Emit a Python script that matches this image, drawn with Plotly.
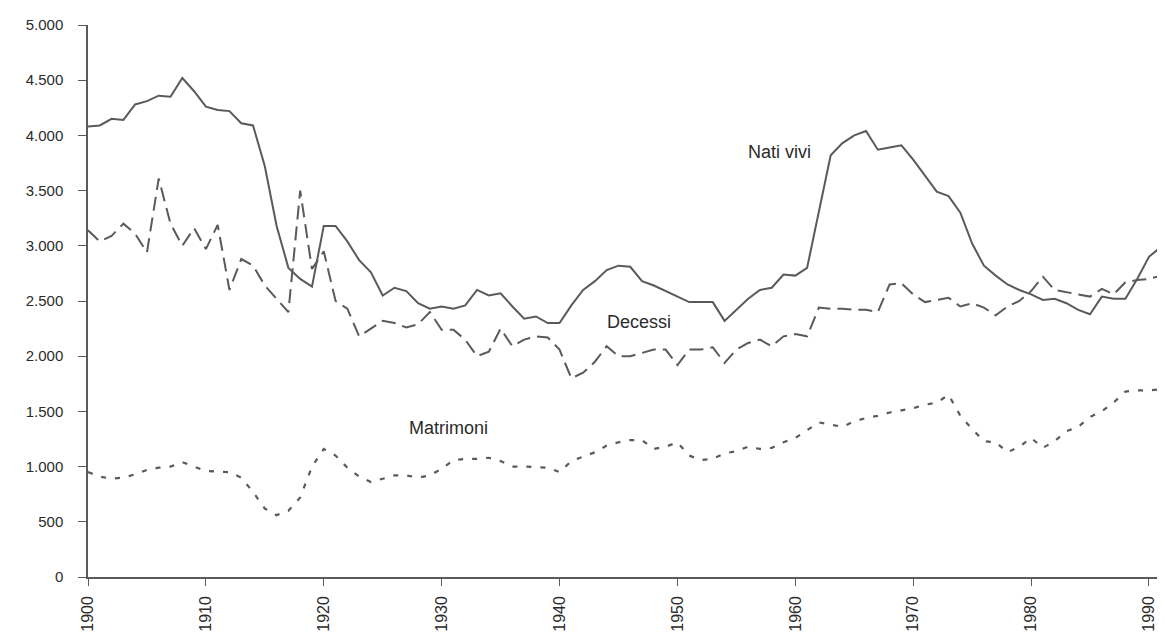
import plotly.graph_objects as go

anni = list(range(1900, 1992))

nati_vivi = [
    4080, 4090, 4150, 4140, 4280, 4310, 4360, 4350, 4520, 4400,
    4260, 4230, 4220, 4110, 4090, 3720, 3180, 2800, 2700, 2630,
    3180, 3180, 3040, 2870, 2760, 2550, 2620, 2590, 2480, 2430,
    2450, 2430, 2460, 2600, 2550, 2570, 2450, 2340, 2360, 2300,
    2300, 2460, 2600, 2680, 2780, 2820, 2810, 2680, 2640, 2590,
    2540, 2490, 2490, 2490, 2320, 2420, 2520, 2600, 2620, 2740,
    2730, 2800, 3300, 3820, 3930, 4000, 4040, 3870, 3890, 3910,
    3780, 3640, 3490, 3450, 3300, 3020, 2820, 2730, 2650, 2600,
    2560, 2510, 2520, 2480, 2420, 2380, 2540, 2520, 2520, 2700,
    2900, 2990,
]

decessi = [
    3140, 3040, 3090, 3200, 3110, 2940, 3610, 3200, 3000, 3160,
    2970, 3190, 2600, 2880, 2820, 2640, 2520, 2400, 3500, 2790,
    2950, 2500, 2430, 2180, 2250, 2320, 2300, 2260, 2290, 2400,
    2240, 2240, 2150, 2000, 2040, 2250, 2090, 2150, 2180, 2170,
    2060, 1800, 1850, 1950, 2090, 2000, 2000, 2030, 2060, 2060,
    1920, 2060, 2060, 2080, 1940, 2060, 2120, 2150, 2090, 2180,
    2200, 2180, 2440, 2430, 2430, 2420, 2420, 2400, 2650, 2660,
    2560, 2490, 2510, 2530, 2450, 2480, 2440, 2370, 2450, 2500,
    2590, 2720, 2600, 2580, 2560, 2540, 2610, 2560, 2670, 2690,
    2700, 2730,
]

matrimoni = [
    950, 910, 890, 900, 930, 970, 990, 1000, 1040, 1000,
    960, 955, 950, 900, 770, 620, 560, 600, 720, 1000,
    1160, 1100, 990, 910, 860, 890, 920, 920, 900, 920,
    980, 1060, 1070, 1070, 1080, 1050, 1000, 1000, 995, 990,
    950, 1050, 1090, 1130, 1190, 1220, 1240, 1240, 1160, 1180,
    1220, 1100, 1060, 1070, 1120, 1140, 1180, 1160, 1170, 1220,
    1260, 1330, 1400, 1380, 1360, 1410, 1440, 1460, 1490, 1510,
    1530, 1560, 1580, 1650, 1460, 1340, 1230, 1220, 1130, 1180,
    1260, 1170, 1230, 1320, 1360, 1450, 1500, 1580, 1680, 1690,
    1690, 1700,
]

tick_anni = list(range(1900, 2000, 10))

grigio = "#5a5a5a"
testo = "#2b2b2b"

fig = go.Figure()
fig.add_trace(go.Scatter(x=anni, y=nati_vivi, mode="lines", name="Nati vivi",
                         line=dict(color=grigio, width=2)))
fig.add_trace(go.Scatter(x=anni, y=decessi, mode="lines", name="Decessi",
                         line=dict(color=grigio, width=2, dash="14px,7px")))
fig.add_trace(go.Scatter(x=anni, y=matrimoni, mode="lines", name="Matrimoni",
                         line=dict(color=grigio, width=2.2, dash="5px,9px")))

# etichette delle serie, come nel grafico originale
etichette = [("Nati vivi", 1958.7, 3850), ("Decessi", 1946.7, 2310), ("Matrimoni", 1930.6, 1350)]
for testo_et, xa, ya in etichette:
    fig.add_annotation(x=xa, y=ya, text=testo_et, showarrow=False,
                       font=dict(size=18, color=testo))

# la pagina ha 8px di margine del body: figura ridotta per stare nella finestra
fig.update_layout(
    width=1157, height=635,
    margin=dict(l=80, r=0, t=17, b=66),
    paper_bgcolor="white", plot_bgcolor="white",
    showlegend=False,
    separators=",.",
    font=dict(family="Liberation Sans, Arial, sans-serif", size=16, color=testo),
)
fig.update_xaxes(range=[1900, 1991.36], tickvals=tick_anni, tickangle=-90,
                 showgrid=False, zeroline=False, showline=True, linecolor=grigio,
                 linewidth=1.5, ticks="outside", ticklen=7, tickcolor=grigio,
                 ticklabelstandoff=4, tickfont=dict(size=16, color=testo))
fig.update_yaxes(range=[0, 5000], dtick=500, tickformat=",d",
                 showgrid=False, zeroline=False, showline=True, linecolor=grigio,
                 linewidth=1.5, ticks="outside", ticklen=8, tickcolor=grigio,
                 ticklabelstandoff=12, tickfont=dict(size=15, color=testo))

fig.write_html("out.html")
